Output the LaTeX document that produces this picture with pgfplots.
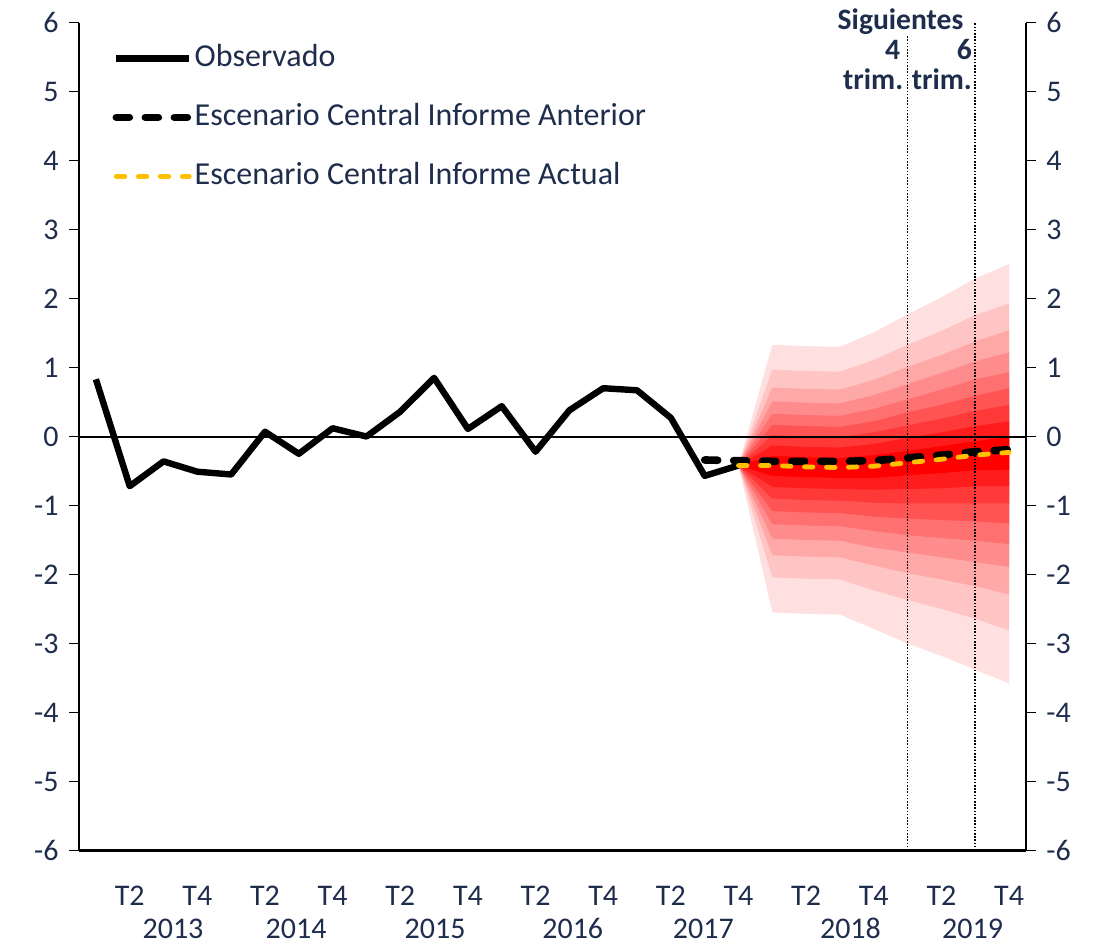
\documentclass[border=0pt]{standalone}
\usepackage{fontspec}
\setmainfont{Carlito}
\usepackage{pgfplots}
\usepackage{pgfplotstable}
\pgfplotsset{compat=1.18}
\usepgfplotslibrary{fillbetween}
\definecolor{navy}{RGB}{31,45,77}
\definecolor{gold}{RGB}{255,192,0}
\definecolor{f1}{RGB}{255,224,224}
\definecolor{f2}{RGB}{255,196,196}
\definecolor{f3}{RGB}{255,168,168}
\definecolor{f4}{RGB}{255,140,140}
\definecolor{f5}{RGB}{255,112,112}
\definecolor{f6}{RGB}{255,84,84}
\definecolor{f7}{RGB}{255,56,56}
\definecolor{f8}{RGB}{255,28,28}
\definecolor{f9}{RGB}{255,0,0}

\pgfplotstableread{
x  u1   u2   u3   u4   u5   u6   u7   u8    u9    l9    l8    l7    l6    l5    l4    l3    l2    l1
19 -0.42 -0.42 -0.42 -0.42 -0.42 -0.42 -0.42 -0.42 -0.42 -0.42 -0.42 -0.42 -0.42 -0.42 -0.42 -0.42 -0.42 -0.42
20 1.33 0.97 0.71 0.51 0.33 0.17 0.02 -0.13 -0.28 -0.57 -0.73 -0.90 -1.08 -1.27 -1.48 -1.72 -2.04 -2.55
21 1.31 0.95 0.69 0.49 0.31 0.15 0.00 -0.15 -0.30 -0.59 -0.75 -0.92 -1.10 -1.29 -1.50 -1.74 -2.06 -2.57
22 1.30 0.94 0.68 0.48 0.30 0.14 -0.01 -0.16 -0.31 -0.60 -0.76 -0.93 -1.11 -1.30 -1.51 -1.75 -2.07 -2.58
23 1.51 1.11 0.82 0.60 0.40 0.22 0.06 -0.11 -0.27 -0.60 -0.77 -0.96 -1.16 -1.37 -1.61 -1.87 -2.23 -2.79
24 1.77 1.33 1.01 0.76 0.54 0.35 0.16 -0.02 -0.21 -0.56 -0.76 -0.97 -1.19 -1.43 -1.68 -1.98 -2.37 -3.00
25 2.02 1.53 1.18 0.92 0.68 0.46 0.26 0.06 -0.14 -0.53 -0.75 -0.97 -1.21 -1.47 -1.75 -2.07 -2.50 -3.18
26 2.29 1.76 1.38 1.09 0.83 0.59 0.37 0.15 -0.07 -0.49 -0.72 -0.97 -1.23 -1.51 -1.82 -2.17 -2.64 -3.38
27 2.50 1.93 1.54 1.22 0.93 0.70 0.46 0.22 0.00 -0.48 -0.72 -0.97 -1.26 -1.56 -1.89 -2.29 -2.81 -3.58
}\fan

\begin{document}
\fontsize{15}{18}\selectfont
\begin{tikzpicture}
\begin{axis}[
  scale only axis, width=473.5pt, height=414pt,
  xmin=-0.5, xmax=27.5, ymin=-6, ymax=6,
  axis x line*=bottom, axis y line*=left,
  axis line style={-, line width=0.85pt},
  x axis line style={line width=1.4pt},
  xtick={1,3,...,27},
  xticklabels={T2,T4,T2,T4,T2,T4,T2,T4,T2,T4,T2,T4,T2,T4},
  ytick={-6,-5,...,6},
  yticklabels={-6,-5,-4,-3,-2,-1,0,1,2,3,4,5,6},
  tick align=outside,
  major tick length=5pt,
  tick style={line width=0.85pt, black},
  x tick style={draw=none},
  every tick label/.append style={font=\fontsize{15}{18}\selectfont, text=navy},
  xticklabel style={anchor=base, yshift=-22.25pt},
  yticklabel style={anchor=east},
  clip=false,
  legend cell align=left,
  legend style={draw=none, fill=none, at={(rel axis cs:0.035,0.979)}, anchor=north west,
    font=\fontsize{16}{19}\selectfont, text=navy, row sep=11.5pt,
    inner sep=0pt,
    nodes={inner xsep=0.8pt, inner ysep=1pt, text height=12pt, text depth=4pt}},
  legend image code/.code={\draw[#1] (0pt,0pt) -- (36.5pt,0pt);},
]
\coordinate (BL) at (rel axis cs:-0.0834,-0.1153);
\coordinate (TR) at (rel axis cs:1.0824,1.0272);

\addplot[name path=u1, draw=none, forget plot] table[x=x,y=u1]{\fan};
\addplot[name path=u2, draw=none, forget plot] table[x=x,y=u2]{\fan};
\addplot[name path=u3, draw=none, forget plot] table[x=x,y=u3]{\fan};
\addplot[name path=u4, draw=none, forget plot] table[x=x,y=u4]{\fan};
\addplot[name path=u5, draw=none, forget plot] table[x=x,y=u5]{\fan};
\addplot[name path=u6, draw=none, forget plot] table[x=x,y=u6]{\fan};
\addplot[name path=u7, draw=none, forget plot] table[x=x,y=u7]{\fan};
\addplot[name path=u8, draw=none, forget plot] table[x=x,y=u8]{\fan};
\addplot[name path=u9, draw=none, forget plot] table[x=x,y=u9]{\fan};
\addplot[name path=l1, draw=none, forget plot] table[x=x,y=l1]{\fan};
\addplot[name path=l2, draw=none, forget plot] table[x=x,y=l2]{\fan};
\addplot[name path=l3, draw=none, forget plot] table[x=x,y=l3]{\fan};
\addplot[name path=l4, draw=none, forget plot] table[x=x,y=l4]{\fan};
\addplot[name path=l5, draw=none, forget plot] table[x=x,y=l5]{\fan};
\addplot[name path=l6, draw=none, forget plot] table[x=x,y=l6]{\fan};
\addplot[name path=l7, draw=none, forget plot] table[x=x,y=l7]{\fan};
\addplot[name path=l8, draw=none, forget plot] table[x=x,y=l8]{\fan};
\addplot[name path=l9, draw=none, forget plot] table[x=x,y=l9]{\fan};
\addplot[fill=f1, draw=none, forget plot] fill between[of=u1 and l1];
\addplot[fill=f2, draw=none, forget plot] fill between[of=u2 and l2];
\addplot[fill=f3, draw=none, forget plot] fill between[of=u3 and l3];
\addplot[fill=f4, draw=none, forget plot] fill between[of=u4 and l4];
\addplot[fill=f5, draw=none, forget plot] fill between[of=u5 and l5];
\addplot[fill=f6, draw=none, forget plot] fill between[of=u6 and l6];
\addplot[fill=f7, draw=none, forget plot] fill between[of=u7 and l7];
\addplot[fill=f8, draw=none, forget plot] fill between[of=u8 and l8];
\addplot[fill=f9, draw=none, forget plot] fill between[of=u9 and l9];

\addplot[black, line width=1pt, forget plot] coordinates {(-0.5,0) (27.5,0)};
\addplot[black, line width=0.8pt, dash pattern=on 0.8pt off 0.8pt, forget plot] coordinates {(24,-6) (24,6)};
\addplot[black, line width=0.8pt, dash pattern=on 0.8pt off 0.8pt, forget plot] coordinates {(26,-6) (26,6)};

\addplot[black, line width=3.2pt, line join=round] coordinates {
(0,0.83) (1,-0.72) (2,-0.36) (3,-0.51) (4,-0.55) (5,0.07) (6,-0.25) (7,0.12)
(8,0.00) (9,0.36) (10,0.85) (11,0.11) (12,0.44) (13,-0.22) (14,0.38) (15,0.70)
(16,0.67) (17,0.27) (18,-0.57) (19,-0.42)};
\addlegendentry{Observado}
\addplot[black, line width=3.8pt, line cap=round, dash pattern=on 6.5pt off 8pt] coordinates {
(18,-0.34) (19,-0.35) (20,-0.36) (21,-0.36) (22,-0.36) (23,-0.35) (24,-0.31)
(25,-0.27) (26,-0.22) (27,-0.19)};
\addlegendentry{Escenario Central Informe Anterior}
\addplot[gold, line width=2.4pt, line cap=round, dash pattern=on 4.25pt off 6.75pt] coordinates {
(19,-0.42) (20,-0.42) (21,-0.44) (22,-0.45) (23,-0.43) (24,-0.38) (25,-0.33)
(26,-0.27) (27,-0.23)};
\addlegendentry{Escenario Central Informe Actual}

\node[anchor=base, fill=white, inner xsep=1pt, inner ysep=1pt, font=\fontsize{14.8}{17}\selectfont\bfseries, text=navy] at (axis cs:23.79,5.906) {Siguientes};
\node[anchor=base east, inner sep=0pt, font=\fontsize{14.8}{17}\selectfont\bfseries, text=navy] at (axis cs:24,5.457) [xshift=-3.5pt] {4};
\node[anchor=base east, inner sep=0pt, font=\fontsize{14.8}{17}\selectfont\bfseries, text=navy] at (axis cs:24,5.036) [xshift=-2pt] {trim.};
\node[anchor=base east, inner sep=0pt, font=\fontsize{14.8}{17}\selectfont\bfseries, text=navy] at (axis cs:26,5.457) [xshift=-1.5pt] {6};
\node[anchor=base east, inner sep=0pt, font=\fontsize{14.8}{17}\selectfont\bfseries, text=navy] at (axis cs:26,5.036) [xshift=-1.5pt] {trim.};

\node[anchor=base, font=\fontsize{15}{18}\selectfont, text=navy] at (axis cs:2.28,-6) [yshift=-44pt] {2013};
\node[anchor=base, font=\fontsize{15}{18}\selectfont, text=navy] at (axis cs:5.92,-6) [yshift=-44pt] {2014};
\node[anchor=base, font=\fontsize{15}{18}\selectfont, text=navy] at (axis cs:10.03,-6) [yshift=-44pt] {2015};
\node[anchor=base, font=\fontsize{15}{18}\selectfont, text=navy] at (axis cs:14.1,-6) [yshift=-44pt] {2016};
\node[anchor=base, font=\fontsize{15}{18}\selectfont, text=navy] at (axis cs:17.96,-6) [yshift=-44pt] {2017};
\node[anchor=base, font=\fontsize{15}{18}\selectfont, text=navy] at (axis cs:22.31,-6) [yshift=-44pt] {2018};
\node[anchor=base, font=\fontsize{15}{18}\selectfont, text=navy] at (axis cs:25.92,-6) [yshift=-44pt] {2019};
\end{axis}

\begin{axis}[
  scale only axis, width=473.5pt, height=414pt,
  xmin=-0.5, xmax=27.5, ymin=-6, ymax=6,
  axis x line=none, axis y line*=right,
  axis line style={-, line width=0.85pt},
  ytick={-6,-5,...,6},
  yticklabels={-6,-5,-4,-3,-2,-1,0,1,2,3,4,5,6},
  tick align=outside,
  major tick length=5pt,
  tick style={line width=0.85pt, black},
  every tick label/.append style={font=\fontsize{15}{18}\selectfont, text=navy},
  yticklabel style={anchor=west},
]
\addplot[draw=none] coordinates {(0,0)};
\end{axis}
\pgfresetboundingbox
\path[use as bounding box] (BL) rectangle (TR);
\end{tikzpicture}
\end{document}
